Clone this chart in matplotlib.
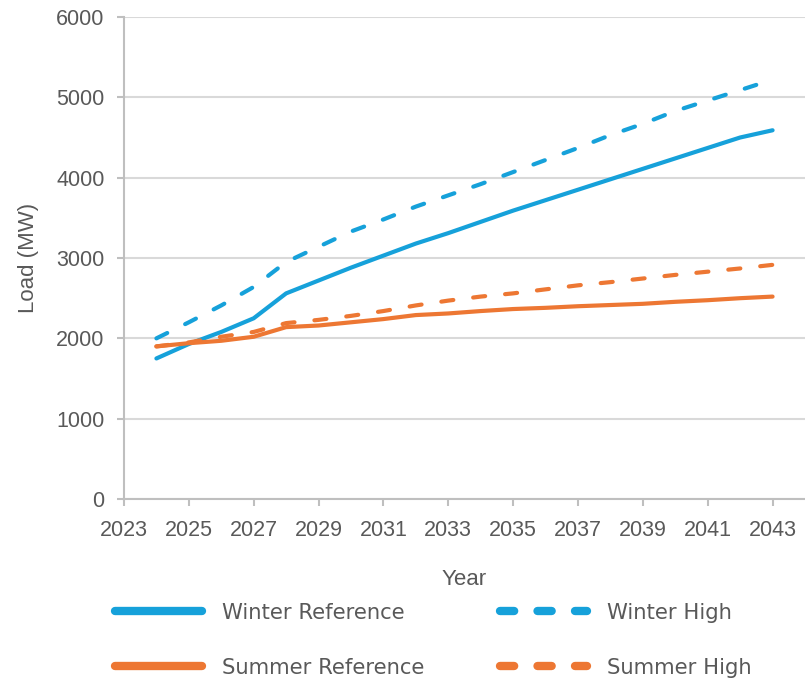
import matplotlib
matplotlib.use("Agg")
import matplotlib.pyplot as plt
from matplotlib.lines import Line2D

years = list(range(2024, 2044))
winter_reference = [1750, 1930, 2080, 2250, 2560, 2720, 2880, 3030, 3180, 3310,
                    3450, 3590, 3720, 3850, 3980, 4110, 4240, 4370, 4500, 4590]
winter_high = [2000, 2200, 2410, 2640, 2950, 3140, 3330, 3480, 3640, 3780,
               3920, 4070, 4220, 4370, 4530, 4670, 4830, 4960, 5090, 5220]
summer_reference = [1900, 1940, 1970, 2020, 2140, 2160, 2200, 2240, 2290, 2310,
                    2340, 2365, 2380, 2400, 2415, 2430, 2455, 2475, 2500, 2520]
summer_high = [1900, 1950, 2020, 2080, 2190, 2230, 2280, 2340, 2410, 2470,
               2520, 2560, 2610, 2660, 2700, 2745, 2790, 2830, 2870, 2915]
x_ticks = list(range(2023, 2044, 2))
y_ticks = list(range(0, 6001, 1000))

BLUE = "#16A1DA"
ORANGE = "#ED7733"
GRID = "#D9D9D9"
AXIS = "#BFBFBF"
TXT = "#595959"

fig = plt.figure(figsize=(8.05, 6.79), dpi=100)
ax = fig.add_axes([0.154, 0.265, 0.846, 0.71])

lw = 3.0
dash = (2.9, 4.8)
ax.plot(years, winter_reference, color=BLUE, lw=lw, solid_capstyle="round", solid_joinstyle="round", zorder=3)
ax.plot(years, winter_high, color=BLUE, lw=lw, dashes=dash, dash_capstyle="round", zorder=3)
ax.plot(years, summer_reference, color=ORANGE, lw=lw, solid_capstyle="round", solid_joinstyle="round", zorder=3)
ax.plot(years, summer_high, color=ORANGE, lw=lw, dashes=dash, dash_capstyle="round", zorder=3)

ax.set_xlim(2023, 2044)
ax.set_ylim(0, 6000)
ax.set_xticks(x_ticks)
ax.set_yticks(y_ticks)
ax.grid(axis="y", color=GRID, lw=1.5, zorder=0)
ax.set_axisbelow(True)

for s in ["top", "right"]:
    ax.spines[s].set_visible(False)
for s in ["left", "bottom"]:
    ax.spines[s].set_color(AXIS)
    ax.spines[s].set_linewidth(1.5)
ax.tick_params(axis="both", color=AXIS, width=1.5, length=5, labelcolor=TXT,
               labelsize=15.5)
ax.tick_params(axis="y", pad=9)
ax.tick_params(axis="x", pad=10)
for lab in ax.get_xticklabels() + ax.get_yticklabels():
    lab.set_fontfamily("Liberation Sans")

ax.set_xlabel("Year", fontsize=16, color=TXT, family="Liberation Sans", labelpad=20)
ax.set_ylabel("Load (MW)", fontsize=16, color=TXT, family="Liberation Sans", labelpad=12)

ldash = (1.7, 2.8)
handles = [
    Line2D([], [], color=BLUE, lw=6, solid_capstyle="round"),
    Line2D([], [], color=ORANGE, lw=6, solid_capstyle="round"),
    Line2D([], [], color=BLUE, lw=6, dashes=ldash, dash_capstyle="round"),
    Line2D([], [], color=ORANGE, lw=6, dashes=ldash, dash_capstyle="round"),
]
labels = ["Winter Reference", "Summer Reference", "Winter High", "Summer High"]
leg = fig.legend(handles, labels, loc="center", bbox_to_anchor=(0.538, 0.057),
                 ncol=2, frameon=False, handlelength=4.1, handletextpad=0.95,
                 columnspacing=3.6, labelspacing=1.65,
                 prop={"family": "DejaVu Sans", "size": 15.2})
for t in leg.get_texts():
    t.set_color(TXT)

fig.savefig("out.png", dpi=100)
